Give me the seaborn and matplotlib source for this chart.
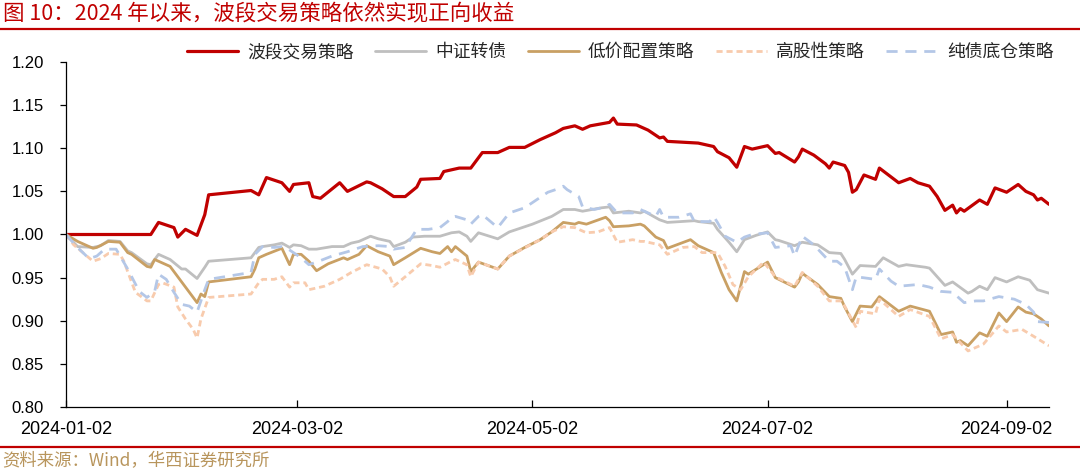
"""
Recreate: 图 10 — 2024 年以来，波段交易策略依然实现正向收益
Five net-value curves on a calendar date axis, saved to out.png (1080x473).
"""

import matplotlib
matplotlib.use("Agg")
import matplotlib.pyplot as plt
import matplotlib.dates as mdates
from matplotlib.lines import Line2D
from matplotlib.ticker import FormatStrFormatter
import pandas as pd
import seaborn as sns

# ---------------------------------------------------------------------------
# Data (month-day of 2024)
# ---------------------------------------------------------------------------

wave_dates = ["01-02", "01-24", "01-26", "01-30", "01-31", "02-02", "02-05", "02-07", "02-08",
              "02-19", "02-21", "02-23", "02-27", "02-29", "03-01", "03-05", "03-06", "03-08",
              "03-13", "03-15", "03-20", "03-21", "03-24", "03-27", "03-30", "04-02", "04-03",
              "04-08", "04-09", "04-13", "04-16", "04-19", "04-23", "04-26", "04-30", "05-04",
              "05-08", "05-10", "05-13", "05-15", "05-17", "05-22", "05-23", "05-24", "05-29",
              "06-01", "06-04", "06-05", "06-06", "06-14", "06-18", "06-19", "06-22", "06-24",
              "06-26", "06-28", "07-02", "07-04", "07-05", "07-09", "07-10", "07-11", "07-14",
              "07-17", "07-18", "07-19", "07-22", "07-23", "07-24", "07-25", "07-27", "07-30",
              "07-31", "08-05", "08-08", "08-10", "08-13", "08-15", "08-17", "08-19", "08-20",
              "08-21", "08-22", "08-26", "08-28", "08-30", "09-02", "09-05", "09-07", "09-09",
              "09-10", "09-11", "09-13"]
wave_vals = [1.000, 1.000, 1.014, 1.008, 0.997, 1.006, 0.999, 1.023, 1.046,
             1.051, 1.046, 1.066, 1.060, 1.050, 1.058, 1.060, 1.044, 1.042,
             1.060, 1.050, 1.061, 1.060, 1.053, 1.044, 1.044, 1.055, 1.064,
             1.065, 1.073, 1.077, 1.077, 1.095, 1.095, 1.101, 1.101, 1.110,
             1.118, 1.123, 1.126, 1.122, 1.126, 1.130, 1.135, 1.128, 1.127,
             1.121, 1.112, 1.113, 1.108, 1.106, 1.102, 1.096, 1.089, 1.078,
             1.102, 1.099, 1.103, 1.094, 1.095, 1.084, 1.090, 1.099, 1.092,
             1.082, 1.077, 1.084, 1.080, 1.072, 1.049, 1.052, 1.069, 1.064,
             1.077, 1.060, 1.065, 1.060, 1.056, 1.044, 1.028, 1.034, 1.025,
             1.030, 1.027, 1.040, 1.035, 1.054, 1.049, 1.058, 1.050, 1.046,
             1.040, 1.042, 1.035]

cb_dates = ["01-02", "01-05", "01-09", "01-11", "01-13", "01-16", "01-18", "01-19", "01-23",
            "01-24", "01-26", "01-29", "02-01", "02-02", "02-05", "02-07", "02-08", "02-19",
            "02-21", "02-22", "02-25", "02-27", "02-29", "03-01", "03-03", "03-05", "03-07",
            "03-11", "03-14", "03-16", "03-18", "03-21", "03-23", "03-26", "03-27", "03-30",
            "04-01", "04-04", "04-08", "04-11", "04-13", "04-15", "04-16", "04-18", "04-23",
            "04-26", "05-02", "05-07", "05-10", "05-13", "05-15", "05-20", "05-22", "05-23",
            "05-27", "05-30", "05-31", "06-04", "06-06", "06-13", "06-14", "06-18", "06-19",
            "06-22", "06-24", "06-26", "06-29", "07-02", "07-04", "07-05", "07-09", "07-11",
            "07-15", "07-18", "07-21", "07-22", "07-24", "07-26", "07-30", "08-01", "08-05",
            "08-07", "08-12", "08-13", "08-17", "08-19", "08-23", "08-24", "08-26", "08-28",
            "08-30", "09-02", "09-05", "09-08", "09-10", "09-13"]
cb_vals = [1.000, 0.986, 0.985, 0.987, 0.993, 0.992, 0.981, 0.979, 0.966,
           0.965, 0.977, 0.971, 0.960, 0.960, 0.949, 0.962, 0.969, 0.973,
           0.985, 0.986, 0.988, 0.990, 0.985, 0.988, 0.987, 0.983, 0.983,
           0.986, 0.986, 0.990, 0.992, 0.998, 0.995, 0.992, 0.986, 0.991,
           0.997, 0.998, 0.998, 1.002, 1.003, 0.998, 0.992, 1.002, 0.995,
           1.003, 1.012, 1.021, 1.029, 1.029, 1.027, 1.031, 1.032, 1.025,
           1.027, 1.025, 1.027, 1.017, 1.014, 1.016, 1.015, 1.013, 1.006,
           0.991, 0.980, 0.994, 0.999, 1.003, 0.994, 0.993, 0.987, 0.991,
           0.988, 0.979, 0.978, 0.971, 0.954, 0.964, 0.963, 0.973, 0.963,
           0.965, 0.962, 0.961, 0.941, 0.945, 0.932, 0.934, 0.940, 0.936,
           0.950, 0.945, 0.951, 0.947, 0.936, 0.932]

low_dates = ["01-02", "01-05", "01-09", "01-10", "01-13", "01-16", "01-18", "01-19", "01-23",
             "01-24", "01-25", "01-29", "02-01", "02-05", "02-06", "02-07", "02-08", "02-19",
             "02-20", "02-21", "02-23", "02-27", "02-29", "03-01", "03-03", "03-05", "03-07",
             "03-10", "03-14", "03-15", "03-18", "03-20", "03-23", "03-26", "03-27", "03-30",
             "04-03", "04-06", "04-08", "04-10", "04-11", "04-12", "04-15", "04-16", "04-18",
             "04-23", "04-26", "04-30", "05-04", "05-07", "05-10", "05-13", "05-14", "05-16",
             "05-21", "05-22", "05-23", "05-27", "05-30", "05-31", "06-03", "06-05", "06-06",
             "06-12", "06-14", "06-18", "06-20", "06-22", "06-24", "06-26", "06-27", "07-02",
             "07-04", "07-09", "07-10", "07-11", "07-15", "07-18", "07-21", "07-22", "07-24",
             "07-26", "07-29", "07-31", "08-05", "08-08", "08-13", "08-16", "08-19", "08-20",
             "08-21", "08-23", "08-26", "08-28", "08-31", "09-02", "09-05", "09-07", "09-09",
             "09-11", "09-13"]
low_vals = [1.000, 0.992, 0.984, 0.985, 0.992, 0.991, 0.979, 0.977, 0.963,
            0.962, 0.971, 0.963, 0.945, 0.921, 0.931, 0.928, 0.945, 0.951,
            0.960, 0.973, 0.977, 0.984, 0.965, 0.977, 0.977, 0.969, 0.958,
            0.966, 0.973, 0.971, 0.977, 0.987, 0.980, 0.975, 0.965, 0.973,
            0.984, 0.980, 0.978, 0.986, 0.980, 0.986, 0.975, 0.957, 0.968,
            0.960, 0.975, 0.985, 0.994, 1.003, 1.014, 1.012, 1.014, 1.012,
            1.020, 1.016, 1.009, 1.010, 1.012, 1.010, 0.997, 0.993, 0.984,
            0.994, 0.987, 0.979, 0.956, 0.936, 0.923, 0.957, 0.954, 0.968,
            0.950, 0.939, 0.945, 0.955, 0.942, 0.928, 0.926, 0.916, 0.899,
            0.917, 0.916, 0.928, 0.911, 0.917, 0.911, 0.884, 0.887, 0.875,
            0.877, 0.871, 0.886, 0.882, 0.909, 0.899, 0.916, 0.910, 0.908,
            0.902, 0.894]

high_dates = ["01-02", "01-04", "01-09", "01-11", "01-13", "01-16", "01-17", "01-20", "01-23",
              "01-24", "01-26", "01-27", "01-30", "01-31", "02-02", "02-04", "02-05", "02-06",
              "02-08", "02-19", "02-21", "02-22", "02-25", "02-27", "02-29", "03-01", "03-04",
              "03-05", "03-09", "03-13", "03-16", "03-20", "03-24", "03-26", "03-27", "03-30",
              "04-03", "04-06", "04-08", "04-11", "04-12", "04-15", "04-16", "04-18", "04-23",
              "04-26", "05-04", "05-07", "05-10", "05-13", "05-16", "05-19", "05-22", "05-24",
              "05-28", "05-30", "05-31", "06-04", "06-06", "06-10", "06-13", "06-15", "06-19",
              "06-21", "06-23", "06-25", "06-27", "07-01", "07-04", "07-09", "07-11", "07-15",
              "07-18", "07-21", "07-22", "07-25", "07-26", "07-30", "07-31", "08-05", "08-08",
              "08-13", "08-16", "08-19", "08-23", "08-25", "08-27", "08-31", "09-02", "09-06",
              "09-09", "09-13"]
high_vals = [1.000, 0.988, 0.969, 0.972, 0.978, 0.977, 0.969, 0.933, 0.923,
             0.923, 0.942, 0.944, 0.939, 0.916, 0.902, 0.890, 0.880, 0.902,
             0.927, 0.931, 0.944, 0.948, 0.948, 0.951, 0.939, 0.944, 0.944,
             0.936, 0.940, 0.948, 0.956, 0.965, 0.960, 0.951, 0.940, 0.951,
             0.966, 0.964, 0.962, 0.969, 0.971, 0.965, 0.951, 0.968, 0.960,
             0.975, 0.994, 1.003, 1.009, 1.008, 1.002, 1.003, 1.008, 0.991,
             0.994, 0.992, 0.992, 0.988, 0.977, 0.985, 0.986, 0.979, 0.979,
             0.963, 0.942, 0.936, 0.951, 0.968, 0.951, 0.940, 0.956, 0.940,
             0.923, 0.923, 0.917, 0.892, 0.911, 0.908, 0.925, 0.905, 0.913,
             0.905, 0.879, 0.884, 0.865, 0.869, 0.873, 0.894, 0.887, 0.890,
             0.882, 0.871]

bond_dates = ["01-02", "01-05", "01-08", "01-10", "01-12", "01-15", "01-18", "01-21", "01-23",
              "01-25", "01-26", "01-28", "01-30", "02-01", "02-03", "02-05", "02-07", "02-08",
              "02-19", "02-20", "02-22", "02-25", "02-27", "02-28", "03-01", "03-03", "03-05",
              "03-07", "03-11", "03-15", "03-19", "03-23", "03-26", "03-27", "03-30", "04-02",
              "04-05", "04-08", "04-10", "04-11", "04-12", "04-15", "04-16", "04-18", "04-19",
              "04-23", "04-26", "04-30", "05-03", "05-06", "05-08", "05-10", "05-11", "05-14",
              "05-15", "05-18", "05-21", "05-22", "05-24", "05-28", "05-30", "05-31", "06-03",
              "06-04", "06-05", "06-09", "06-12", "06-13", "06-17", "06-18", "06-19", "06-21",
              "06-24", "06-26", "06-28", "07-02", "07-04", "07-08", "07-09", "07-11", "07-14",
              "07-18", "07-20", "07-22", "07-24", "07-25", "07-30", "07-31", "08-03", "08-05",
              "08-10", "08-13", "08-16", "08-19", "08-22", "08-25", "08-27", "08-31", "09-04",
              "09-07", "09-09", "09-10", "09-13"]
bond_vals = [1.000, 0.985, 0.972, 0.975, 0.983, 0.983, 0.960, 0.934, 0.927,
             0.934, 0.954, 0.948, 0.933, 0.919, 0.917, 0.910, 0.936, 0.948,
             0.956, 0.977, 0.986, 0.985, 0.986, 0.985, 0.979, 0.973, 0.965,
             0.968, 0.975, 0.980, 0.986, 0.987, 0.986, 0.983, 0.985, 1.006,
             1.006, 1.008, 1.015, 1.020, 1.021, 1.017, 1.012, 1.021, 1.023,
             1.008, 1.025, 1.031, 1.040, 1.049, 1.052, 1.056, 1.052, 1.044,
             1.032, 1.029, 1.032, 1.035, 1.025, 1.025, 1.029, 1.027, 1.021,
             1.029, 1.020, 1.020, 1.024, 1.015, 1.015, 1.021, 1.014, 0.998,
             0.991, 0.997, 1.000, 1.002, 0.985, 0.987, 0.975, 0.998, 0.988,
             0.969, 0.969, 0.962, 0.936, 0.951, 0.948, 0.960, 0.946, 0.940,
             0.942, 0.939, 0.934, 0.933, 0.921, 0.923, 0.923, 0.928, 0.925,
             0.919, 0.910, 0.899, 0.898]

SERIES_NAMES = ["波段交易策略", "中证转债", "低价配置策略", "高股性策略", "纯债底仓策略"]
SERIES_DATA = [(wave_dates, wave_vals), (cb_dates, cb_vals), (low_dates, low_vals),
               (high_dates, high_vals), (bond_dates, bond_vals)]

X_TICKS = ["2024-01-02", "2024-03-02", "2024-05-02", "2024-07-02", "2024-09-02"]
Y_TICKS = [0.80, 0.85, 0.90, 0.95, 1.00, 1.05, 1.10, 1.15, 1.20]

TITLE = "图 10：2024 年以来，波段交易策略依然实现正向收益"
SOURCE = "资料来源：Wind，华西证券研究所"

# ---------------------------------------------------------------------------
# Styling
# ---------------------------------------------------------------------------

STYLE = {
    "波段交易策略": dict(color="#C00000", linewidth=2.3, linestyle="-"),
    "中证转债":     dict(color="#BFBFBF", linewidth=2.0, linestyle="-"),
    "低价配置策略": dict(color="#C9A064", linewidth=2.0, linestyle="-"),
    "高股性策略":   dict(color="#F8CBAD", linewidth=2.0, linestyle=(0, (2.2, 1.4))),
    "纯债底仓策略": dict(color="#B4C7E7", linewidth=2.0, linestyle=(0, (4.0, 2.8))),
}
RED = "#C00000"
NUM_FONT = ["Liberation Sans Narrow", "Liberation Sans", "DejaVu Sans"]

sns.set_theme(style="white")
plt.rcParams["font.family"] = ["Noto Sans CJK SC", "DejaVu Sans"]
plt.rcParams["axes.unicode_minus"] = False

W, H = 1080, 473
fig = plt.figure(figsize=(W / 100, H / 100), dpi=100)
ax = fig.add_axes([66 / W, 1 - 407 / H, 983 / W, 345 / H])

# long-form table for seaborn
frames = []
for name, (dates, vals) in zip(SERIES_NAMES, SERIES_DATA):
    frames.append(pd.DataFrame({
        "date": pd.to_datetime(["2024-" + d for d in dates]),
        "value": vals,
        "series": name,
    }))
df = pd.concat(frames, ignore_index=True)

for name in SERIES_NAMES:
    sub = df[df["series"] == name]
    sns.lineplot(data=sub, x="date", y="value", ax=ax, label=name,
                 estimator=None, sort=True, **STYLE[name])

# ---- axes ------------------------------------------------------------------
ax.set_xlim(pd.Timestamp("2024-01-02"), pd.Timestamp("2024-09-13"))
ax.set_ylim(0.80, 1.20)
ax.set_xticks(pd.to_datetime(X_TICKS))
ax.xaxis.set_major_formatter(mdates.DateFormatter("%Y-%m-%d"))
ax.set_yticks(Y_TICKS)
ax.yaxis.set_major_formatter(FormatStrFormatter("%.2f"))
ax.set_xlabel("")
ax.set_ylabel("")

for side in ["top", "right"]:
    ax.spines[side].set_visible(False)
for side in ["left", "bottom"]:
    ax.spines[side].set_color("#000000")
    ax.spines[side].set_linewidth(0.9)

ax.tick_params(axis="y", direction="out", length=4, width=0.9, color="#000000",
               pad=12, labelsize=12, labelcolor="#000000", left=True)
ax.tick_params(axis="x", direction="in", length=5, width=0.9, color="#000000",
               pad=10, labelsize=13, labelcolor="#000000", bottom=True)
for lab in ax.get_xticklabels() + ax.get_yticklabels():
    lab.set_fontfamily(NUM_FONT)

# ---- legend ----------------------------------------------------------------
handles, labels = ax.get_legend_handles_labels()
ax.legend(handles, labels, ncol=5, loc="center",
          bbox_to_anchor=(620 / W, 1 - 52 / H), bbox_transform=fig.transFigure,
          frameon=False, fontsize=12.8, handlelength=2.9, handletextpad=0.5,
          columnspacing=1.2, borderaxespad=0)

# ---- title, source, rules ----------------------------------------------------
fig.text(3 / W, 1 - 14 / H, TITLE, color=RED, fontsize=15.5, ha="left", va="center")
fig.add_artist(Line2D([0, 1], [1 - 29 / H] * 2, transform=fig.transFigure,
                      color=RED, linewidth=1.6))
fig.add_artist(Line2D([0, 1], [1 - 447 / H] * 2, transform=fig.transFigure,
                      color=RED, linewidth=1.6))
fig.text(2 / W, 1 - 461 / H, SOURCE, color="#B8955C", fontsize=12.5, ha="left", va="center")

fig.savefig("out.png", dpi=100)
plt.close(fig)
